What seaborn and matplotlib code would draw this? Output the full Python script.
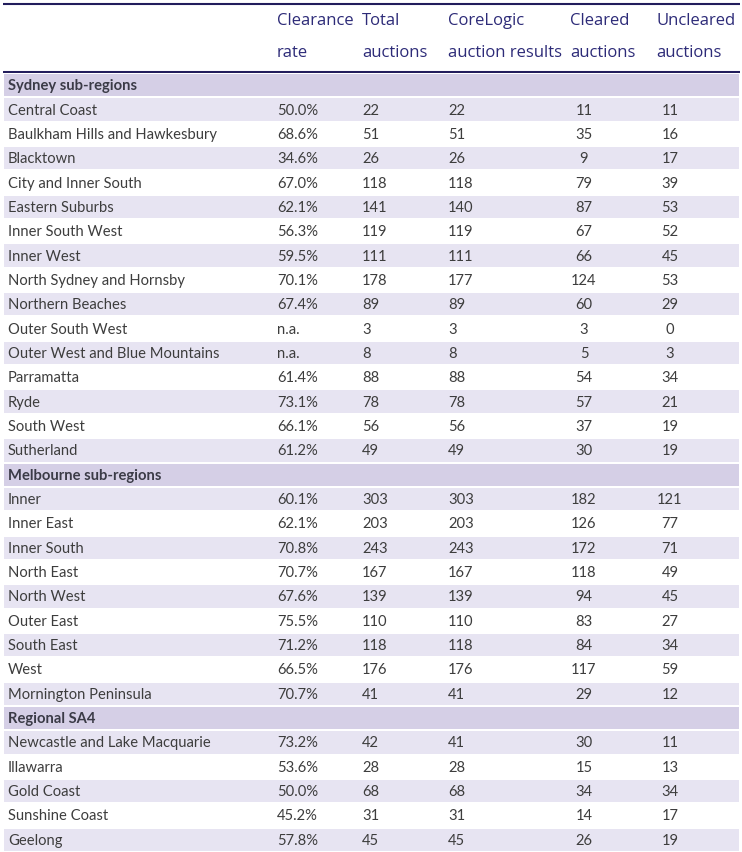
import matplotlib
matplotlib.use("Agg")
import matplotlib.pyplot as plt
from matplotlib.colors import ListedColormap
import numpy as np
import pandas as pd
import seaborn as sns

# table content
header_top = ["Clearance", "Total", "CoreLogic", "Cleared", "Uncleared"]
header_bottom = ["rate", "auctions", "auction results", "auctions", "auctions"]

sections = ["Sydney sub-regions", "Melbourne sub-regions", "Regional SA4"]

sydney_regions = ["Central Coast", "Baulkham Hills and Hawkesbury", "Blacktown",
                  "City and Inner South", "Eastern Suburbs", "Inner South West",
                  "Inner West", "North Sydney and Hornsby", "Northern Beaches",
                  "Outer South West", "Outer West and Blue Mountains", "Parramatta",
                  "Ryde", "South West", "Sutherland"]
sydney_rate = ["50.0%", "68.6%", "34.6%", "67.0%", "62.1%", "56.3%", "59.5%", "70.1%",
               "67.4%", "n.a.", "n.a.", "61.4%", "73.1%", "66.1%", "61.2%"]
sydney_total = [22, 51, 26, 118, 141, 119, 111, 178, 89, 3, 8, 88, 78, 56, 49]
sydney_corelogic = [22, 51, 26, 118, 140, 119, 111, 177, 89, 3, 8, 88, 78, 56, 49]
sydney_cleared = [11, 35, 9, 79, 87, 67, 66, 124, 60, 3, 5, 54, 57, 37, 30]
sydney_uncleared = [11, 16, 17, 39, 53, 52, 45, 53, 29, 0, 3, 34, 21, 19, 19]

melb_regions = ["Inner", "Inner East", "Inner South", "North East", "North West",
                "Outer East", "South East", "West", "Mornington Peninsula"]
melb_rate = ["60.1%", "62.1%", "70.8%", "70.7%", "67.6%", "75.5%", "71.2%", "66.5%", "70.7%"]
melb_total = [303, 203, 243, 167, 139, 110, 118, 176, 41]
melb_corelogic = [303, 203, 243, 167, 139, 110, 118, 176, 41]
melb_cleared = [182, 126, 172, 118, 94, 83, 84, 117, 29]
melb_uncleared = [121, 77, 71, 49, 45, 27, 34, 59, 12]

reg_regions = ["Newcastle and Lake Macquarie", "Illawarra", "Gold Coast",
               "Sunshine Coast", "Geelong"]
reg_rate = ["73.2%", "53.6%", "50.0%", "45.2%", "57.8%"]
reg_total = [42, 28, 68, 31, 45]
reg_corelogic = [41, 28, 68, 31, 45]
reg_cleared = [30, 15, 34, 14, 26]
reg_uncleared = [11, 13, 34, 17, 19]

blocks = [
    (sydney_regions, sydney_rate, sydney_total, sydney_corelogic, sydney_cleared, sydney_uncleared),
    (melb_regions, melb_rate, melb_total, melb_corelogic, melb_cleared, melb_uncleared),
    (reg_regions, reg_rate, reg_total, reg_corelogic, reg_cleared, reg_uncleared),
]

# build one long table; kind 2 = section header, 1 = shaded row, 0 = white row
rows = []
for sec, (names, rate, total, core, clr, unclr) in zip(sections, blocks):
    rows.append(dict(label=sec, kind=2, rate="", total="", core="", cleared="", uncleared=""))
    for i, n in enumerate(names):
        rows.append(dict(label=n, kind=1 if i % 2 == 0 else 0, rate=rate[i],
                         total=str(total[i]), core=str(core[i]),
                         cleared=str(clr[i]), uncleared=str(unclr[i])))
df = pd.DataFrame(rows)

W, H = 742, 853
left_px, right_px = 3, 740
head_px = 74
width_px = right_px - left_px

def fx(px):
    return (px - left_px) / width_px

sns.set_theme(style="white")
plt.rcParams["font.family"] = ["Lato", "DejaVu Sans"]

fig = plt.figure(figsize=(W / 100, H / 100), dpi=100)

# body: row backgrounds as a one-column heatmap
ax = fig.add_axes([left_px / W, 0, width_px / W, (H - head_px) / H])
cmap = ListedColormap(["#ffffff", "#e7e4f2", "#d5cfe6"])
sns.heatmap(df[["kind"]].to_numpy(), ax=ax, cmap=cmap, vmin=-0.5, vmax=2.5,
            cbar=False, linewidths=1.2, linecolor="white",
            xticklabels=False, yticklabels=False)

body_col = "#3d3d3d"
fs = 10.6
for i, r in df.iterrows():
    y = i + 0.5
    if r["kind"] == 2:
        ax.text(fx(8), y, r["label"], ha="left", va="center", fontsize=fs,
                fontweight="bold", color="#3b3b47")
        continue
    ax.text(fx(8), y, r["label"], ha="left", va="center", fontsize=fs, color=body_col)
    ax.text(fx(277), y, r["rate"], ha="left", va="center", fontsize=fs, color=body_col)
    ax.text(fx(362), y, r["total"], ha="left", va="center", fontsize=fs, color=body_col)
    ax.text(fx(448), y, r["core"], ha="left", va="center", fontsize=fs, color=body_col)
    ax.text(fx(584), y, r["cleared"], ha="center", va="center", fontsize=fs, color=body_col)
    ax.text(fx(670), y, r["uncleared"], ha="center", va="center", fontsize=fs, color=body_col)

# header
hax = fig.add_axes([left_px / W, (H - head_px) / H, width_px / W, head_px / H])
hax.set_xlim(0, 1)
hax.set_ylim(head_px, 0)
hax.axis("off")
navy = "#221d5c"
hax.axhline(5, color=navy, lw=1.5)
hax.axhline(72.5, color=navy, lw=2.2)
head_x = [277, 362, 448, 570, 656]
for x, t1, t2 in zip(head_x, header_top, header_bottom):
    hax.text(fx(x), 21, t1, ha="left", va="center", fontsize=12, color="#2d2b78",
             family=["Open Sans", "DejaVu Sans"])
    hax.text(fx(x), 53, t2, ha="left", va="center", fontsize=12, color="#2d2b78",
             family=["Open Sans", "DejaVu Sans"])

fig.savefig("out.png", dpi=100)
